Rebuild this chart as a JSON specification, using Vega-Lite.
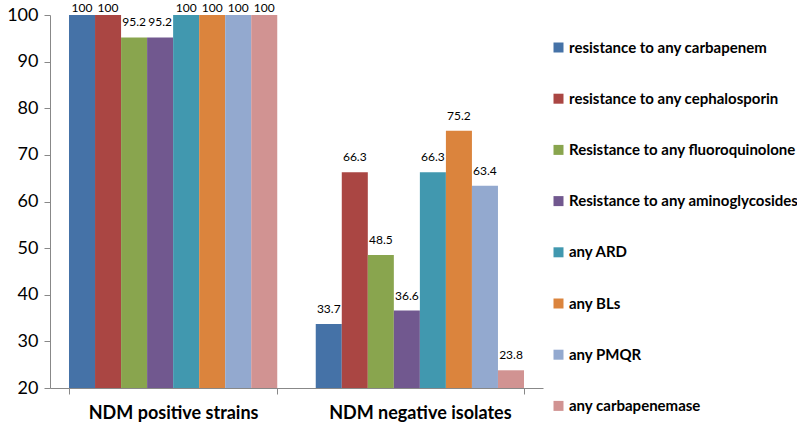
{
  "$schema": "https://vega.github.io/schema/vega-lite/v6.json",
  "width": 493,
  "height": 373,
  "autosize": "none",
  "padding": {"left": 50, "top": 15, "right": 254, "bottom": 37},
  "background": "white",
  "config": {"view": {"stroke": null}, "font": "Lato"},
  "data": {"values": [
    {"group": "NDM positive strains", "series": "resistance to any carbapenem", "value": 100},
    {"group": "NDM positive strains", "series": "resistance to any cephalosporin", "value": 100},
    {"group": "NDM positive strains", "series": "Resistance to any fluoroquinolone", "value": 95.2},
    {"group": "NDM positive strains", "series": "Resistance to any aminoglycosides", "value": 95.2},
    {"group": "NDM positive strains", "series": "any ARD", "value": 100},
    {"group": "NDM positive strains", "series": "any BLs", "value": 100},
    {"group": "NDM positive strains", "series": "any PMQR", "value": 100},
    {"group": "NDM positive strains", "series": "any carbapenemase", "value": 100},
    {"group": "NDM negative isolates", "series": "resistance to any carbapenem", "value": 33.7},
    {"group": "NDM negative isolates", "series": "resistance to any cephalosporin", "value": 66.3},
    {"group": "NDM negative isolates", "series": "Resistance to any fluoroquinolone", "value": 48.5},
    {"group": "NDM negative isolates", "series": "Resistance to any aminoglycosides", "value": 36.6},
    {"group": "NDM negative isolates", "series": "any ARD", "value": 66.3},
    {"group": "NDM negative isolates", "series": "any BLs", "value": 75.2},
    {"group": "NDM negative isolates", "series": "any PMQR", "value": 63.4},
    {"group": "NDM negative isolates", "series": "any carbapenemase", "value": 23.8}
  ]},
  "encoding": {
    "x": {
      "field": "group", "type": "nominal", "sort": null, "title": null,
      "scale": {"paddingInner": 0.156, "paddingOuter": 0.077},
      "axis": {"labelAngle": 0, "labelFontSize": 18, "labelFontWeight": "bold", "labelColor": "#000", "labelPadding": 10, "labelLimit": 300, "domainColor": "#888", "tickColor": "#888", "tickBand": "extent", "tickSize": 6}
    },
    "xOffset": {"field": "series", "type": "nominal", "sort": null, "scale": {"paddingInner": 0, "paddingOuter": 0}},
    "y": {
      "field": "value", "type": "quantitative", "title": null,
      "scale": {"domain": [20, 100], "nice": false, "zero": false},
      "axis": {"values": [20, 30, 40, 50, 60, 70, 80, 90, 100], "grid": false, "labelFontSize": 18, "labelColor": "#000", "labelPadding": 6, "domainColor": "#888", "tickColor": "#888", "tickSize": 6}
    }
  },
  "layer": [
    {
      "mark": {"type": "bar", "clip": true},
      "encoding": {
        "y2": {"datum": 20},
        "color": {
          "field": "series", "type": "nominal", "sort": null, "title": null,
          "scale": {
            "domain": ["resistance to any carbapenem", "resistance to any cephalosporin", "Resistance to any fluoroquinolone", "Resistance to any aminoglycosides", "any ARD", "any BLs", "any PMQR", "any carbapenemase"],
            "range": ["#4572A7", "#AA4643", "#89A54E", "#71588F", "#4198AF", "#DB843D", "#93A9CF", "#D19392"]
          },
          "legend": {
            "orient": "none", "legendX": 501, "legendY": 25,
            "symbolType": "square", "symbolSize": 100, "symbolStrokeWidth": 0,
            "labelFontSize": 15, "labelFontWeight": "bold", "labelColor": "#000",
            "rowPadding": 35.2, "labelLimit": 300, "labelOffset": 3
          }
        }
      }
    },
    {
      "transform": [{"filter": "datum.value < 100"}],
      "mark": {"type": "text", "baseline": "alphabetic", "dy": -11, "fontSize": 12, "color": "#000"},
      "encoding": {"text": {"field": "value", "type": "quantitative"}}
    },
    {
      "transform": [{"filter": "datum.value >= 100"}],
      "mark": {"type": "text", "baseline": "alphabetic", "dy": -3, "fontSize": 12, "color": "#000"},
      "encoding": {"text": {"field": "value", "type": "quantitative"}}
    }
  ]
}
